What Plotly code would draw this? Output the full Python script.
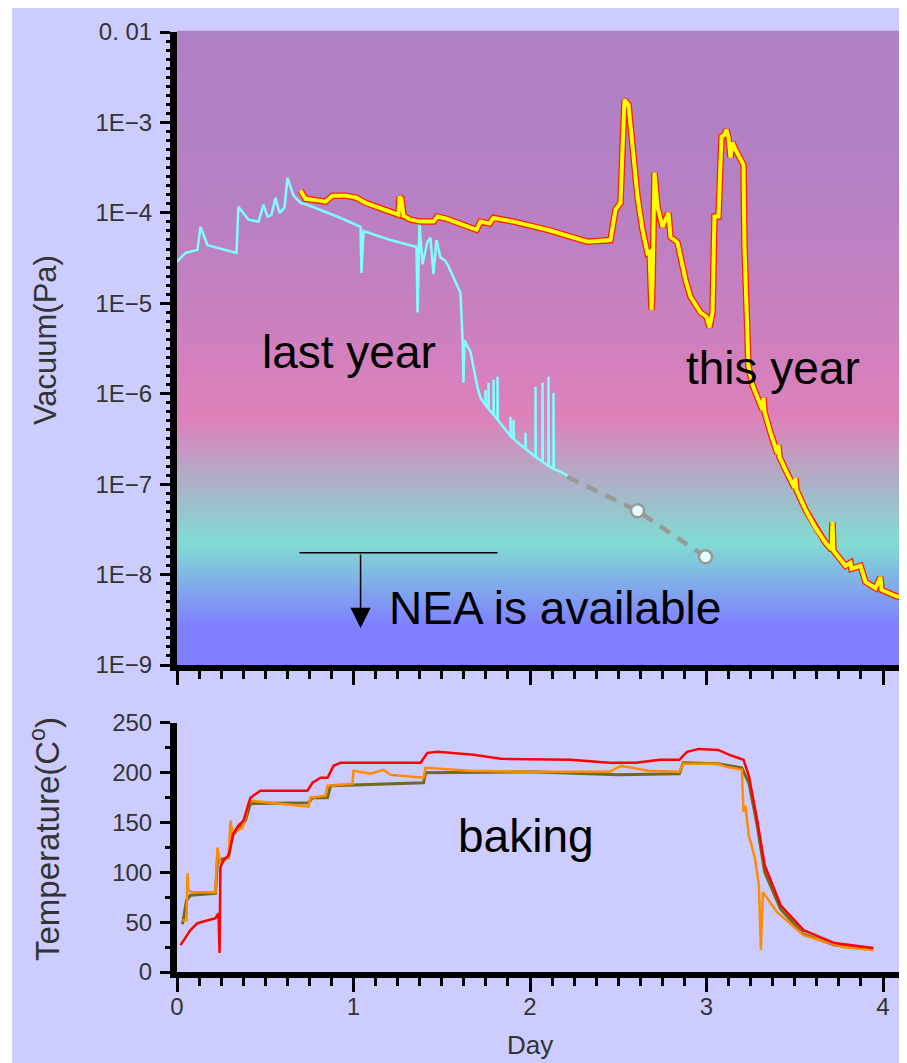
import plotly.graph_objects as go

# ---------------- data ----------------
# Vacuum, last year (day, Pa)
last_day = [0.00, 0.048, 0.116, 0.133, 0.173, 0.337, 0.348, 0.405, 0.462, 0.490, 0.513, 0.535,
            0.558, 0.581, 0.609, 0.626, 0.660, 0.700, 0.739, 0.926, 1.040, 1.045, 1.057, 1.210,
            1.357, 1.363, 1.374, 1.391, 1.419, 1.436, 1.453, 1.470, 1.493, 1.516, 1.533, 1.606,
            1.618, 1.623, 1.629, 1.663, 1.703, 1.7195,
            1.7479, 1.7479, 1.7500, 1.7649, 1.7649, 1.7670, 1.7932, 1.7932, 1.7955, 1.8159,
            1.8159, 1.8180, 1.8612, 1.8895, 1.8895, 1.8915, 1.9065, 1.9065, 1.9085, 1.9462,
            1.9745, 1.9745, 1.9765, 2.0028, 2.0312, 2.0312, 2.0330, 2.0708, 2.0708, 2.0725,
            2.1048, 2.1048, 2.1065, 2.1331, 2.1331, 2.1350, 2.1728, 2.2125]
last_pa = [2.9e-5, 3.6e-5, 3.9e-5, 7.0e-5, 4.4e-5, 3.6e-5, 1.17e-4, 8.4e-5, 8.0e-5, 1.23e-4, 9.1e-5, 9.5e-5,
           1.47e-4, 1.0e-4, 1.14e-4, 2.44e-4, 1.55e-4, 1.29e-4, 1.23e-4, 8.8e-5, 7.0e-5, 2.17e-5, 6.3e-5, 5.0e-5,
           4.2e-5, 7.9e-6, 7.6e-5, 2.7e-5, 4.8e-5, 5.3e-5, 2.1e-5, 5.0e-5, 3.2e-5, 3.0e-5, 2.7e-5, 1.31e-5,
           3.9e-6, 1.32e-6, 3.9e-6, 2.9e-6, 1.16e-6, 9.0e-7,
           7.55e-7, 1.10e-6, 7.4e-7, 6.81e-7, 1.32e-6, 6.7e-7, 5.85e-7, 1.43e-6, 5.8e-7, 5.14e-7,
           1.54e-6, 5.1e-7, 3.99e-7, 3.42e-7, 5.55e-7, 3.4e-7, 3.17e-7, 5.14e-7, 3.15e-7, 2.72e-7,
           2.46e-7, 3.70e-7, 2.44e-7, 2.22e-7, 2.00e-7, 1.19e-6, 1.99e-7, 1.77e-7, 1.32e-6, 1.76e-7,
           1.59e-7, 1.54e-6, 1.58e-7, 1.48e-7, 1.02e-6, 1.47e-7, 1.37e-7, 1.24e-7]

# Extrapolated (dashed) continuation of last year
extrap_day = [2.2125, 2.609, 2.994]
extrap_pa = [1.2e-7, 5.07e-8, 1.57e-8]
est_day = [2.609, 2.994]
est_pa = [5.07e-8, 1.57e-8]

# Vacuum, this year (day, Pa)
this_day = [0.6997, 0.7280, 0.7677, 0.8414, 0.8810, 0.9547, 1.0170, 1.0680, 1.2266, 1.2550,
            1.2606, 1.2720, 1.2833, 1.3229, 1.3796, 1.4533, 1.4759, 1.5269, 1.6969, 1.7195,
            1.7705, 1.7932, 1.9065, 2.0992, 2.3258, 2.4561, 2.4844, 2.5127, 2.5241, 2.5354,
            2.5581, 2.5807, 2.6091, 2.6374, 2.6657, 2.6771, 2.6884, 2.6941, 2.7054, 2.7224,
            2.7507, 2.7677, 2.7847, 2.7960, 2.8357, 2.8810, 2.9093, 2.9660, 3.0000, 3.0170,
            3.0340, 3.0453, 3.0680, 3.0850, 3.1020, 3.1133, 3.1246, 3.1360, 3.1473, 3.1643,
            3.2096, 3.2153, 3.2266, 3.2380, 3.2606, 3.2890, 3.3173, 3.3229, 3.3286, 3.3626,
            3.4023, 3.4079, 3.4136, 3.4476, 3.4986, 3.5042, 3.5099, 3.5609, 3.6176, 3.6742,
            3.7082, 3.7139, 3.7195, 3.7875, 3.8159, 3.8215, 3.8725, 3.9008, 3.9575, 3.9858,
            3.9915, 4.0708, 4.1388]
this_pa = [1.76e-4, 1.43e-4, 1.40e-4, 1.33e-4, 1.55e-4, 1.55e-4, 1.47e-4, 1.29e-4, 1.00e-4, 9.5e-5,
           1.51e-4, 1.43e-4, 9.3e-5, 8.4e-5, 8.0e-5, 8.0e-5, 9.1e-5, 8.6e-5, 6.5e-5, 8.0e-5,
           7.6e-5, 8.8e-5, 8.0e-5, 6.5e-5, 4.8e-5, 5.0e-5, 1.08e-4, 1.29e-4, 5.0e-4, 1.78e-3,
           1.57e-3, 5.4e-4, 1.51e-4, 6.5e-5, 3.6e-5, 3.7e-5, 8.5e-6, 1.6e-5, 2.78e-4, 1.17e-4,
           7.0e-5, 8.4e-5, 1.0e-4, 5.4e-5, 4.7e-5, 1.82e-5, 1.18e-5, 7.9e-6, 7.1e-6, 5.4e-6,
           7.9e-6, 9.1e-5, 9.1e-5, 6.95e-4, 7.3e-4, 8.3e-4, 6.8e-4, 4.1e-4, 6.0e-4, 5.0e-4,
           3.4e-4, 4.2e-5, 7.9e-6, 2.0e-6, 1.25e-6, 9.0e-7, 6.6e-7, 9.0e-7, 6.3e-7, 3.7e-7,
           2.16e-7, 2.72e-7, 2.0e-7, 1.44e-7, 9.1e-8, 1.17e-7, 8.65e-8, 5.2e-8, 3.3e-8, 2.24e-8,
           1.88e-8, 3.8e-8, 1.83e-8, 1.25e-8, 1.35e-8, 1.16e-8, 1.25e-8, 8.3e-9, 7.1e-9, 9.4e-9,
           6.8e-9, 5.8e-9, 5.4e-9]

# NEA threshold line
nea_pa = 1.74e-8
nea_day_range = [0.694, 1.816]

# Temperatures (day, deg C)
red_day = [0.02, 0.076, 0.116, 0.173, 0.218, 0.235, 0.241, 0.246, 0.263, 0.292, 0.320, 0.348,
           0.377, 0.416, 0.473, 0.739, 0.768, 0.813, 0.853, 0.887, 0.926, 1.38, 1.419, 1.476,
           1.68, 1.835, 2.23, 2.45, 2.60, 2.736, 2.846, 2.89, 2.956, 3.066, 3.13, 3.21, 3.24,
           3.286, 3.33, 3.42, 3.55, 3.725, 3.945]
red_t = [27, 42, 49, 52, 54, 59, 19, 105, 112, 117, 139, 147,
         152, 175, 182, 182, 190, 195, 195, 207, 210, 210, 220, 221,
         218, 214, 213, 210, 210, 213, 213, 221, 224, 223, 218, 213, 197,
         154, 107, 67, 42, 29, 24]

orange_day = [0.031, 0.054, 0.059, 0.065, 0.088, 0.218, 0.229, 0.246, 0.292, 0.303, 0.314, 0.371,
              0.388, 0.405, 0.416, 0.745, 0.756, 0.841, 0.853, 0.994, 1.0, 1.096, 1.170, 1.210,
              1.397, 1.408, 1.663, 2.01, 2.45, 2.516, 2.67, 2.846, 2.868, 3.066, 3.11, 3.2,
              3.21, 3.22, 3.24, 3.275, 3.297, 3.308, 3.32, 3.4, 3.55, 3.77, 3.945]
orange_t = [52, 52, 99, 82, 80, 80, 125, 109, 115, 152, 139, 145,
            155, 170, 172, 166, 175, 177, 187, 189, 202, 199, 203, 198,
            195, 205, 202, 201, 201, 207, 202, 201, 209, 209, 206, 203,
            161, 167, 137, 114, 87, 22, 80, 60, 37, 25, 22]

olive_day = [0.031, 0.054, 0.076, 0.218, 0.229, 0.292, 0.314, 0.388, 0.416, 0.745, 0.768, 0.853,
             0.870, 1.397, 1.408, 2.0, 2.5, 2.846, 2.868, 3.066, 3.2, 3.24, 3.286, 3.33,
             3.42, 3.55, 3.725, 3.945]
olive_t = [48, 72, 77, 79, 112, 115, 137, 152, 169, 170, 175, 175,
           187, 190, 200, 201, 198, 199, 210, 209, 205, 190, 148, 100,
           63, 38, 27, 23]

# Tick labels
vac_tick_vals = [1e-2, 1e-3, 1e-4, 1e-5, 1e-6, 1e-7, 1e-8, 1e-9]
vac_tick_text = ["0. 01", "1E\u22123", "1E\u22124", "1E\u22125", "1E\u22126", "1E\u22127", "1E\u22128", "1E\u22129"]
day_tick_vals = [0, 1, 2, 3, 4]
temp_tick_vals = [0, 50, 100, 150, 200, 250]

# ---------------- styling helpers ----------------
LAV = "#CCCCFF"
grad_stops = [(0.0, "#8080FF"), (0.063, "#8080FF"), (0.193, "#80DCD2"),
              (0.392, "#DE80BA"), (0.574, "#C680C0"), (0.714, "#B880C3"), (1.0, "#AE80C6")]


def h2r(h):
    h = h.lstrip("#")
    return [int(h[i:i + 2], 16) for i in (0, 2, 4)]


def grad_color(f):
    for (f0, c0), (f1, c1) in zip(grad_stops[:-1], grad_stops[1:]):
        if f0 <= f <= f1:
            t = 0 if f1 == f0 else (f - f0) / (f1 - f0)
            a, b = h2r(c0), h2r(c1)
            r = [round(a[i] + (b[i] - a[i]) * t) for i in range(3)]
            return "rgb(%d,%d,%d)" % tuple(r)
    return grad_stops[-1][1]


shapes = []
nb = 300
for i in range(nb):
    f0, f1 = i / nb, (i + 1) / nb
    shapes.append(dict(type="rect", xref="x domain", yref="y domain", x0=0, x1=1,
                       y0=f0, y1=f1 + 0.002, fillcolor=grad_color((f0 + f1) / 2),
                       line=dict(width=0), layer="below"))

# extra white strip at the far left of the original picture
shapes.append(dict(type="rect", xref="paper", yref="paper", x0=-0.24, x1=-0.226, y0=-0.12, y1=1.05,
                   fillcolor="white", line=dict(width=0), layer="below"))

fig = go.Figure()

# Last year
fig.add_trace(go.Scatter(x=last_day, y=last_pa, mode="lines", xaxis="x", yaxis="y",
                         line=dict(color="#80FFFF", width=2.5), showlegend=False))
fig.add_trace(go.Scatter(x=extrap_day, y=extrap_pa, mode="lines", xaxis="x", yaxis="y",
                         line=dict(color="#999999", width=4.5, dash="12px,9px"), showlegend=False))
fig.add_trace(go.Scatter(x=est_day, y=est_pa, mode="markers", xaxis="x", yaxis="y",
                         marker=dict(size=13, color="#E4FFFF", line=dict(color="#999999", width=2.5)),
                         showlegend=False))
# This year (red outline + yellow core)
fig.add_trace(go.Scatter(x=this_day, y=this_pa, mode="lines", xaxis="x", yaxis="y",
                         line=dict(color="#FF1A00", width=6.5), showlegend=False))
fig.add_trace(go.Scatter(x=this_day, y=this_pa, mode="lines", xaxis="x", yaxis="y",
                         line=dict(color="#FFFF00", width=4.0), showlegend=False))
# NEA threshold line
fig.add_trace(go.Scatter(x=nea_day_range, y=[nea_pa, nea_pa], mode="lines", xaxis="x", yaxis="y",
                         line=dict(color="black", width=1.5), showlegend=False))

# Temperatures
fig.add_trace(go.Scatter(x=olive_day, y=olive_t, mode="lines", xaxis="x2", yaxis="y2",
                         line=dict(color="#6E6A1E", width=3), showlegend=False))
fig.add_trace(go.Scatter(x=orange_day, y=orange_t, mode="lines", xaxis="x2", yaxis="y2",
                         line=dict(color="#FF8C00", width=2.5), showlegend=False))
fig.add_trace(go.Scatter(x=red_day, y=red_t, mode="lines", xaxis="x2", yaxis="y2",
                         line=dict(color="#FF0000", width=2.5), showlegend=False))

FAM = "Liberation Sans, Arial, sans-serif"
TICKFONT = dict(family=FAM, size=24, color="#333333")
TXT = dict(family=FAM, size=46, color="black")
XR = [0, 4.136]

axis_common = dict(showline=True, linecolor="black", showgrid=False, zeroline=False,
                   ticks="outside", tickcolor="black", tickwidth=3)

minor_vac = [10 ** (k + j / 10) for k in range(-9, -2) for j in range(1, 10)]

fig.update_layout(
    width=899, height=1055,
    margin=dict(l=169, r=0, t=24, b=91),
    paper_bgcolor=LAV, plot_bgcolor="rgba(0,0,0,0)",
    showlegend=False,
    shapes=shapes,
    xaxis=dict(domain=[0, 1], range=XR, anchor="y", tickvals=day_tick_vals, showticklabels=False,
               ticklen=14, linewidth=6,
               minor=dict(dtick=0.125, tick0=0, ticks="outside", ticklen=8, tickwidth=3, tickcolor="black"),
               **axis_common),
    yaxis=dict(domain=[0.3266, 1.0], type="log", range=[-9, -2], anchor="x",
               tickvals=vac_tick_vals, ticktext=vac_tick_text, tickfont=TICKFONT,
               ticklen=10, linewidth=7, ticklabelstandoff=3,
               minor=dict(tickvals=minor_vac, ticks="outside", ticklen=4, tickwidth=3, tickcolor="black"),
               **axis_common),
    xaxis2=dict(domain=[0, 1], range=XR, anchor="y2", tickvals=day_tick_vals, tickfont=TICKFONT,
                ticklen=14, linewidth=6, ticklabelstandoff=-6,
                minor=dict(dtick=0.125, tick0=0, ticks="outside", ticklen=8, tickwidth=3, tickcolor="black"),
                **axis_common),
    yaxis2=dict(domain=[0, 0.2649], range=[0, 250], anchor="x2", tickvals=temp_tick_vals,
                tickfont=TICKFONT, ticklen=10, linewidth=7, ticklabelstandoff=3,
                minor=dict(dtick=25, tick0=0, ticks="outside", ticklen=5, tickwidth=3, tickcolor="black"),
                **axis_common),
)

ann = [
    dict(text="last year", x=0.977, y=-5.537, xref="x", yref="y", showarrow=False, font=TXT,
         xanchor="center", yanchor="middle"),
    dict(text="this year", x=3.377, y=-5.713, xref="x", yref="y", showarrow=False, font=TXT,
         xanchor="center", yanchor="middle"),
    dict(text="NEA is available", x=2.139, y=-8.368, xref="x", yref="y", showarrow=False, font=TXT,
         xanchor="center", yanchor="middle"),
    dict(text="baking", x=1.977, y=137, xref="x2", yref="y2", showarrow=False, font=TXT,
         xanchor="center", yanchor="middle"),
    # downward arrow from the NEA line
    dict(text="", x=1.04, y=-8.59, xref="x", yref="y", ax=0, ay=-75, showarrow=True,
         arrowhead=2, arrowsize=2.7, arrowwidth=1.5, arrowcolor="black"),
    dict(text="Vacuum(Pa)", x=-0.1808, y=0.6723, xref="paper", yref="paper", showarrow=False,
         textangle=-90, xanchor="center", yanchor="middle",
         font=dict(family=FAM, size=31, color="#333333")),
    dict(text="Temperature(C<sup>o</sup>)", x=-0.1808, y=0.1415, xref="paper", yref="paper",
         showarrow=False, textangle=-90, xanchor="center", yanchor="middle",
         font=dict(family=FAM, size=33, color="#333333")),
    dict(text="Day", x=0.4836, y=-0.0777, xref="paper", yref="paper", showarrow=False,
         xanchor="center", yanchor="middle",
         font=dict(family=FAM, size=26, color="#333333")),
]
fig.update_layout(annotations=ann)

fig.write_html("out.html")
